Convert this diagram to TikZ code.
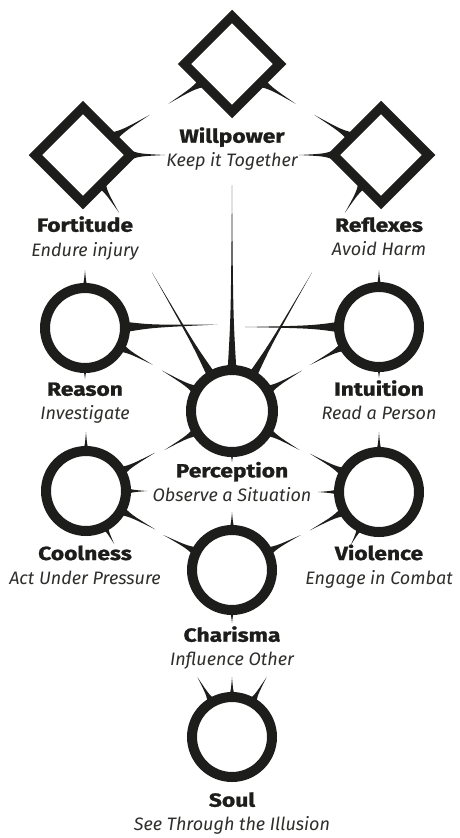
\documentclass[tikz,border=0pt]{standalone}
\usepackage{fontspec}
\setmainfont{Fira Sans}
\newfontfamily\titlefont[FakeStretch=1.2,FakeBold=1.2]{Fira Sans}
\usetikzlibrary{shapes.geometric}
\definecolor{ink}{HTML}{1D1D1B}
\definecolor{txt}{HTML}{1D1D1B}
\definecolor{subtxt}{HTML}{2E2E2C}
\tikzset{
  ring/.style={circle,draw=ink,line width=10pt,minimum size=80pt,inner sep=0pt},
  gem/.style={diamond,draw=ink,line width=9.5pt,minimum width=99pt,minimum height=99pt,inner sep=0pt,aspect=1},
  title/.style={anchor=base,font=\titlefont\bfseries\fontsize{19}{19}\selectfont,text=txt,inner sep=0pt},
  sub/.style={anchor=base,font=\itshape\fontsize{18}{18}\selectfont,text=subtxt,inner sep=0pt},
  pics/thorn/.style n args={3}{code={
    \fill[ink] (#1,#3) .. controls ({#1+0.3*(#2-#1)},{0.25*#3}) .. (#2,0)
      .. controls ({#1+0.3*(#2-#1)},{-0.25*#3}) .. (#1,-#3) -- cycle;
  }},
}
\begin{document}
\begin{tikzpicture}[x=1pt,y=-1pt]
\fill[white] (0,0) rectangle (460,838);
\useasboundingbox (0,0) rectangle (460,838);
% shapes
\node[gem] (wp) at (232,64) {};
\node[gem] (fo) at (83,155) {};
\node[gem] (rf) at (381,155) {};
\node[ring] (re) at (85,328) {};
\node[ring] (it) at (379,327) {};
\node[ring,minimum size=82pt] (pe) at (232,411) {};
\node[ring] (co) at (86,491) {};
\node[ring] (vi) at (379,492) {};
\node[ring] (ch) at (232,570) {};
\node[ring] (so) at (232,737) {};
% thorns: willpower
\pic[rotate=212] at (wp.center) {thorn={33}{75}{5.5}};
\pic[rotate=328] at (wp.center) {thorn={33}{75}{5.5}};
% fortitude
\pic[rotate=31] at (fo.center) {thorn={33}{78}{5.5}};
\pic[rotate=0] at (fo.center) {thorn={46}{82}{5}};
\pic[rotate=-58] at (fo.center) {thorn={33}{68}{5.5}};
% reflexes
\pic[rotate=149] at (rf.center) {thorn={33}{78}{5.5}};
\pic[rotate=180] at (rf.center) {thorn={46}{82}{5}};
\pic[rotate=238] at (rf.center) {thorn={33}{68}{5.5}};
% reason
\pic[rotate=90] at (re.center) {thorn={38}{58}{5}};
\pic[rotate=270] at (re.center) {thorn={38}{51}{5}};
\pic[rotate=1.5] at (re.center) {thorn={38}{133}{5.5}};
\pic[rotate=-28.5] at (re.center) {thorn={38}{77}{5.5}};
% intuition
\pic[rotate=90] at (it.center) {thorn={38}{57}{5}};
\pic[rotate=270] at (it.center) {thorn={38}{51}{5}};
\pic[rotate=180] at (it.center) {thorn={38}{134}{5.5}};
\pic[rotate=208.8] at (it.center) {thorn={38}{79}{5.5}};
% perception
\pic[rotate=90] at (pe.center) {thorn={39}{226}{4.5}};
\pic[rotate=120] at (pe.center) {thorn={39}{160}{4.5}};
\pic[rotate=60] at (pe.center) {thorn={39}{160}{4.5}};
\pic[rotate=150] at (pe.center) {thorn={39}{81}{5.5}};
\pic[rotate=30] at (pe.center) {thorn={39}{81}{5.5}};
\pic[rotate=210] at (pe.center) {thorn={39}{78}{5.5}};
\pic[rotate=330] at (pe.center) {thorn={39}{78}{5.5}};
\pic[rotate=270] at (pe.center) {thorn={39}{51}{5}};
% coolness
\pic[rotate=90] at (co.center) {thorn={38}{59}{5}};
\pic[rotate=29] at (co.center) {thorn={38}{79}{5.5}};
\pic[rotate=0] at (co.center) {thorn={38}{61}{5}};
\pic[rotate=-29] at (co.center) {thorn={38}{79}{5.5}};
\pic[rotate=-62] at (co.center) {thorn={38}{60}{5}};
% violence
\pic[rotate=90] at (vi.center) {thorn={38}{60}{5}};
\pic[rotate=151] at (vi.center) {thorn={38}{79}{5.5}};
\pic[rotate=180] at (vi.center) {thorn={38}{61}{5}};
\pic[rotate=209] at (vi.center) {thorn={38}{79}{5.5}};
\pic[rotate=242] at (vi.center) {thorn={38}{60}{5}};
% charisma
\pic[rotate=90] at (ch.center) {thorn={38}{58}{5}};
\pic[rotate=153] at (ch.center) {thorn={38}{77}{5.5}};
\pic[rotate=27] at (ch.center) {thorn={38}{77}{5.5}};
\pic[rotate=270] at (ch.center) {thorn={38}{53}{5}};
% soul
\pic[rotate=90] at (so.center) {thorn={38}{60}{5}};
\pic[rotate=120] at (so.center) {thorn={38}{69}{5.5}};
\pic[rotate=60] at (so.center) {thorn={38}{69}{5.5}};
% labels
\node[title] (wpT) at (232,142.7) {Willpower};
\node[sub] (wpS) at (232,166) {Keep it Together};
\node[title] (foT) at (85,231.7) {Fortitude};
\node[sub] (foS) at (85,256) {Endure injury};
\node[title] (rfT) at (379,231.7) {Reflexes};
\node[sub] (rfS) at (379,255.7) {Avoid Harm};
\node[title] (reT) at (85,395.7) {Reason};
\node[sub] (reS) at (85,419) {Investigate};
\node[title] (itT) at (379,395.7) {Intuition};
\node[sub] (itS) at (379,419) {Read a Person};
\node[title] (peT) at (232,477.3) {Perception};
\node[sub] (peS) at (232,501.7) {Observe a Situation};
\node[title] (coT) at (85,560) {Coolness};
\node[sub] (coS) at (85,584.3) {Act Under Pressure};
\node[title] (viT) at (379,560) {Violence};
\node[sub] (viS) at (379,584.3) {Engage in Combat};
\node[title] (chT) at (232,641.7) {Charisma};
\node[sub] (chS) at (232,665) {Influence Other};
\node[title] (soT) at (232,806.7) {Soul};
\node[sub] (soS) at (232,830) {See Through the Illusion};
\end{tikzpicture}
\end{document}
